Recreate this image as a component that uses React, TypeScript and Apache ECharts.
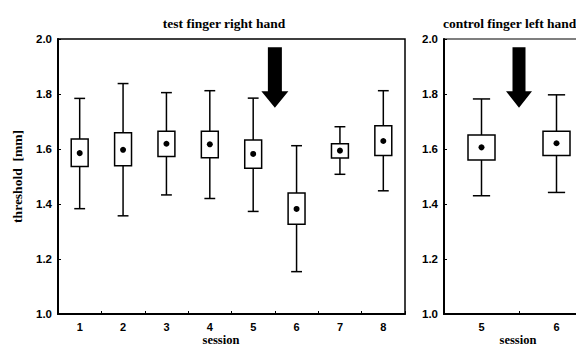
import React, { useEffect, useRef } from "react";
import * as echarts from "echarts";

// ---- data ----
const testSessions = ["1", "2", "3", "4", "5", "6", "7", "8"];
const testLow = [1.383, 1.357, 1.433, 1.42, 1.373, 1.154, 1.508, 1.448];
const testQ1 = [1.536, 1.539, 1.573, 1.568, 1.53, 1.326, 1.567, 1.576];
const testMean = [1.585, 1.597, 1.619, 1.617, 1.582, 1.382, 1.594, 1.629];
const testQ3 = [1.636, 1.659, 1.665, 1.665, 1.633, 1.44, 1.619, 1.685];
const testHigh = [1.784, 1.838, 1.805, 1.812, 1.785, 1.612, 1.681, 1.812];

const ctrlSessions = ["5", "6"];
const ctrlLow = [1.43, 1.442];
const ctrlQ1 = [1.56, 1.576];
const ctrlMean = [1.606, 1.621];
const ctrlQ3 = [1.651, 1.665];
const ctrlHigh = [1.782, 1.797];

// arrow marks: between session index pair, [top, head base, tip]
const testArrow = [[4, 5, 1.97, 1.81, 1.75]];
const ctrlArrow = [[0, 1, 1.97, 1.81, 1.75]];

const yTicks = [1.0, 1.2, 1.4, 1.6, 1.8, 2.0];

const SERIF = "'Liberation Serif', 'Times New Roman', serif";
const SANS = "'Liberation Sans', Arial, sans-serif";

function buildBoxData(low: number[], q1: number[], mean: number[], q3: number[], high: number[]) {
  return low.map((v, i) => [i, v, q1[i], mean[i], q3[i], high[i]]);
}

function boxRender(boxRatio: number, capRatio: number) {
  return (params: any, api: any) => {
    const x = api.value(0);
    const lo = api.coord([x, api.value(1)]);
    const q1 = api.coord([x, api.value(2)]);
    const mean = api.coord([x, api.value(3)]);
    const q3 = api.coord([x, api.value(4)]);
    const hi = api.coord([x, api.value(5)]);
    const band = api.size([1, 0])[0];
    const bw = band * boxRatio;
    const cw = band * capRatio;
    const cx = lo[0];
    const st = { stroke: "#000", lineWidth: 1.5 };
    return {
      type: "group",
      children: [
        { type: "line", shape: { x1: cx, y1: hi[1], x2: cx, y2: q3[1] }, style: st },
        { type: "line", shape: { x1: cx, y1: q1[1], x2: cx, y2: lo[1] }, style: st },
        { type: "line", shape: { x1: cx - cw / 2, y1: hi[1], x2: cx + cw / 2, y2: hi[1] }, style: st },
        { type: "line", shape: { x1: cx - cw / 2, y1: lo[1], x2: cx + cw / 2, y2: lo[1] }, style: st },
        {
          type: "rect",
          shape: { x: cx - bw / 2, y: q3[1], width: bw, height: q1[1] - q3[1] },
          style: { fill: "#fff", stroke: "#000", lineWidth: 1.5 },
        },
        { type: "circle", shape: { cx, cy: mean[1], r: 3 }, style: { fill: "#000" } },
      ],
    };
  };
}

function arrowRender(shaftW: number, headW: number) {
  return (params: any, api: any) => {
    const a = api.coord([api.value(0), api.value(2)]);
    const b = api.coord([api.value(1), api.value(2)]);
    const cx = (a[0] + b[0]) / 2;
    const top = a[1];
    const base = api.coord([api.value(0), api.value(3)])[1];
    const tip = api.coord([api.value(0), api.value(4)])[1];
    return {
      type: "polygon",
      shape: {
        points: [
          [cx - shaftW / 2, top],
          [cx + shaftW / 2, top],
          [cx + shaftW / 2, base],
          [cx + headW / 2, base],
          [cx, tip],
          [cx - headW / 2, base],
          [cx - shaftW / 2, base],
        ],
      },
      style: { fill: "#000" },
    };
  };
}

export default function App() {
  const ref = useRef<HTMLDivElement>(null);
  useEffect(() => {
    if (!ref.current) return;
    const chart = echarts.init(ref.current, null, { renderer: "svg" });
    const yAxisCommon = {
      type: "value",
      min: 1.0,
      max: 2.0,
      interval: 0.2,
      splitLine: { show: false },
      axisLine: { show: true, lineStyle: { color: "#000", width: 2 } },
      axisTick: { show: true, inside: true, length: 3, lineStyle: { color: "#000" } },
      axisLabel: {
        color: "#000",
        fontFamily: SANS,
        fontWeight: "bold",
        fontSize: 11.5,
        margin: 6,
        formatter: (v: number) => (yTicks.includes(Math.round(v * 10) / 10) ? v.toFixed(1) : ""),
      },
    };
    const xAxisCommon = {
      type: "category",
      boundaryGap: true,
      axisLine: { show: true, lineStyle: { color: "#000", width: 2 } },
      axisTick: { show: true, inside: true, length: 3, lineStyle: { color: "#000" } },
      axisLabel: { color: "#000", fontFamily: SANS, fontWeight: "bold", fontSize: 11, margin: 7 },
      splitLine: { show: false },
    };
    chart.setOption({
      animation: false,
      backgroundColor: "#fff",
      grid: [
        { left: 58, top: 39, width: 347, height: 275, show: true, borderColor: "#000", borderWidth: 1.5 },
        { left: 444, top: 39, width: 150, height: 275, show: true, borderColor: "#000", borderWidth: 1.2 },
      ],
      xAxis: [
        { ...xAxisCommon, gridIndex: 0, data: testSessions },
        { ...xAxisCommon, gridIndex: 1, data: ctrlSessions },
      ],
      yAxis: [
        {
          ...yAxisCommon,
          gridIndex: 0,
          name: "threshold  [mm]",
          nameLocation: "middle",
          nameGap: 34,
          nameTextStyle: { color: "#000", fontFamily: SERIF, fontWeight: "bold", fontSize: 13.5 },
        },
        { ...yAxisCommon, gridIndex: 1 },
      ],
      graphic: [
        {
          type: "text",
          x: 224,
          y: 23,
          style: {
            text: "test finger right hand",
            fill: "#000",
            font: `bold 13.5px ${SERIF}`,
            textAlign: "center",
            textVerticalAlign: "middle",
          },
        },
        {
          type: "text",
          x: 443,
          y: 23,
          style: {
            text: "control finger left hand",
            fill: "#000",
            font: `bold 13.5px ${SERIF}`,
            textAlign: "left",
            textVerticalAlign: "middle",
          },
        },
        {
          type: "text",
          x: 221,
          y: 339.5,
          style: {
            text: "session",
            fill: "#000",
            font: `bold 12.5px ${SERIF}`,
            textAlign: "center",
            textVerticalAlign: "middle",
          },
        },
        {
          type: "text",
          x: 518,
          y: 339.5,
          style: {
            text: "session",
            fill: "#000",
            font: `bold 12.5px ${SERIF}`,
            textAlign: "center",
            textVerticalAlign: "middle",
          },
        },
      ],
      series: [
        {
          type: "custom",
          xAxisIndex: 0,
          yAxisIndex: 0,
          encode: { x: 0, y: [1, 2, 3, 4, 5] },
          data: buildBoxData(testLow, testQ1, testMean, testQ3, testHigh),
          renderItem: boxRender(0.39, 0.25),
        },
        {
          type: "custom",
          xAxisIndex: 1,
          yAxisIndex: 1,
          encode: { x: 0, y: [1, 2, 3, 4, 5] },
          data: buildBoxData(ctrlLow, ctrlQ1, ctrlMean, ctrlQ3, ctrlHigh),
          renderItem: boxRender(0.36, 0.23),
        },
        {
          type: "custom",
          xAxisIndex: 0,
          yAxisIndex: 0,
          encode: { x: [0, 1], y: [2, 3, 4] },
          data: testArrow,
          renderItem: arrowRender(14, 27),
        },
        {
          type: "custom",
          xAxisIndex: 1,
          yAxisIndex: 1,
          encode: { x: [0, 1], y: [2, 3, 4] },
          data: ctrlArrow,
          renderItem: arrowRender(13, 26),
        },
      ],
    });
    return () => chart.dispose();
  }, []);
  return (
    <div style={{ position: "fixed", left: 0, top: 0, width: 576, height: 346, overflow: "hidden", background: "#fff" }}>
      <div ref={ref} style={{ width: 600, height: 346 }} />
    </div>
  );
}
